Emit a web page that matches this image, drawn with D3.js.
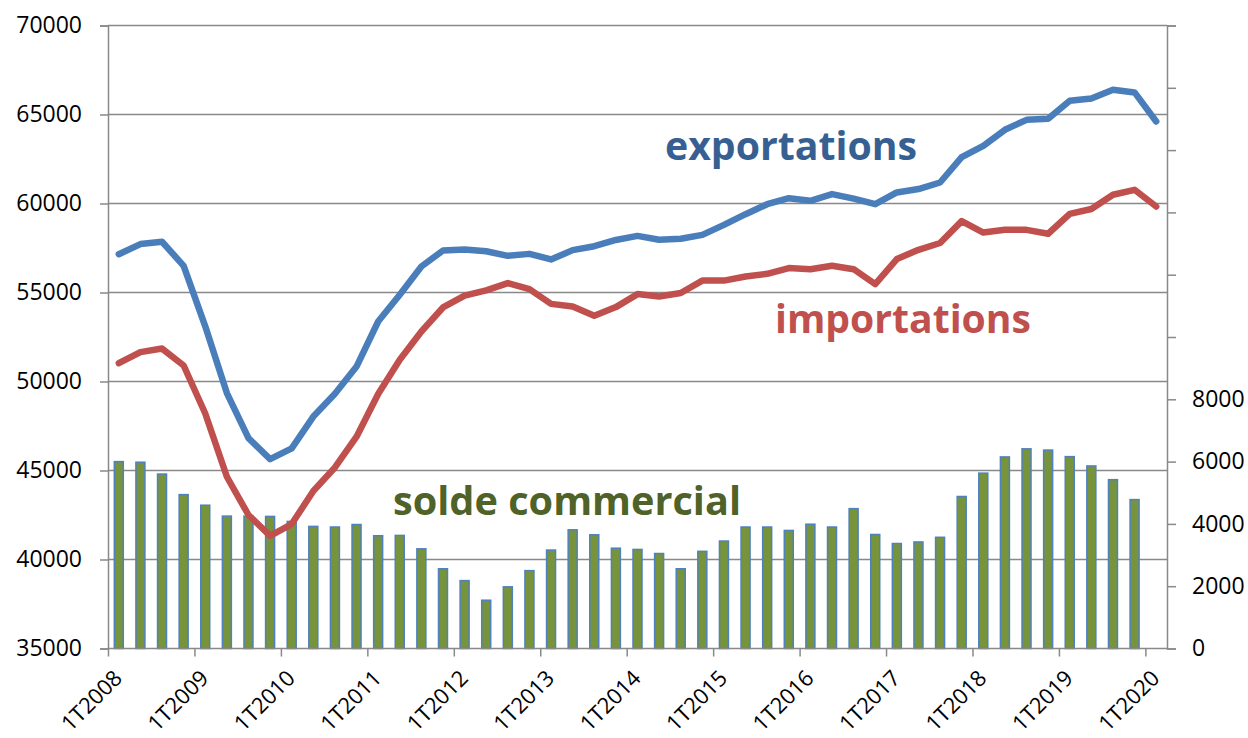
<!DOCTYPE html>
<html>
<head>
<meta charset="utf-8">
<script src="https://cdn.jsdelivr.net/npm/d3@7"></script>
<style>
html,body{margin:0;padding:0;background:#fff;}
svg{display:block;font-family:"Open Sans",sans-serif;}
</style>
</head>
<body>
<svg id="chart" width="1248" height="738"></svg>
<script>
// ---- data ----
const years = d3.range(2008, 2021);
const categories = [];
years.forEach(y => { [1,2,3,4].forEach(q => { if (y < 2020 || q === 1) categories.push(q + "T" + y); }); });

const exportations = [57150,57720,57850,56500,53100,49350,46820,45640,46240,48030,49310,50840,53370,54870,56460,57360,
  57420,57320,57060,57170,56860,57380,57600,57950,58180,57960,58020,58240,58800,59400,59960,60300,
  60150,60530,60270,59960,60620,60810,61180,62600,63240,64140,64700,64760,65770,65900,66390,66240,64610];
const importations = [51030,51650,51850,50900,48200,44650,42500,41330,41990,43850,45170,46900,49300,51220,52810,54160,
  54820,55120,55530,55190,54360,54210,53690,54180,54910,54780,54970,55670,55670,55900,56050,56370,
  56310,56500,56310,55470,56880,57400,57780,59010,58370,58520,58520,58300,59420,59690,60490,60770,59830];
const soldeCommercial = [6000,5980,5600,4940,4600,4250,4250,4240,4080,3920,3900,3980,3620,3630,3200,2560,2180,1550,
  1980,2500,3160,3810,3650,3220,3180,3050,2560,3120,3450,3900,3900,3790,3990,3900,4490,3660,3370,3420,3570,
  4880,5630,6150,6410,6370,6160,5860,5420,4780];

const leftTicks = [35000,40000,45000,50000,55000,60000,65000,70000];
const rightTicks = [0,2000,4000,6000,8000,10000,12000,14000,16000,18000,20000];
const rightTickLabels = [0,2000,4000,6000,8000];
const xTickLabels = categories.filter(c => c.startsWith("1T"));

// ---- layout ----
const svg = d3.select("#chart");
const L = 108, R = 1167, T = 25.5, B = 648.5;
const bw = (R - L) / categories.length;

const xEdge = d3.scalePoint().domain(categories).range([L, L + bw * (categories.length - 1)]);
const xc = c => xEdge(c) + bw / 2;
const yL = d3.scaleLinear().domain([35000, 70000]).range([B, T]);
const yR = d3.scaleLinear().domain([0, 20000]).range([B, T]);

const gridColor = "#898989";

// gridlines
svg.append("g").selectAll("line").data(leftTicks.slice(1)).join("line")
  .attr("x1", L).attr("x2", R).attr("y1", d => yL(d)).attr("y2", d => yL(d))
  .attr("stroke", gridColor).attr("stroke-width", 1.5);

// left axis
const leftAxis = d3.axisLeft(yL).tickValues(leftTicks).tickSize(8).tickPadding(18).tickFormat(d3.format("d"));
const gl = svg.append("g").attr("transform", `translate(${L},0)`).call(leftAxis);
gl.select(".domain").attr("stroke", gridColor).attr("stroke-width", 1.5);
gl.selectAll(".tick line").attr("stroke", gridColor).attr("stroke-width", 1.5);
gl.selectAll(".tick text").attr("font-size", 23).attr("fill", "#000").attr("font-family", "Open Sans");

// right axis
const rightAxis = d3.axisRight(yR).tickValues(rightTicks).tickSize(9).tickPadding(16)
  .tickFormat(d => rightTickLabels.includes(d) ? d3.format("d")(d) : "");
const gr = svg.append("g").attr("transform", `translate(${R},0)`).call(rightAxis);
gr.select(".domain").attr("stroke", gridColor).attr("stroke-width", 1.5);
gr.selectAll(".tick line").attr("stroke", gridColor).attr("stroke-width", 1.5);
gr.selectAll(".tick text").attr("font-size", 23).attr("fill", "#000").attr("font-family", "Open Sans");

// bars
const barW = 9;
svg.append("g").selectAll("rect").data(soldeCommercial).join("rect")
  .attr("x", (d, i) => xc(categories[i]) - barW / 2)
  .attr("y", d => yR(d))
  .attr("width", barW)
  .attr("height", d => yR(0) - yR(d))
  .attr("fill", "#77933C").attr("stroke", "#4F81BD").attr("stroke-width", 1.5);

// bottom axis
const bottomAxis = d3.axisBottom(xEdge).tickValues(xTickLabels).tickSize(8).tickFormat("");
const gb = svg.append("g").attr("transform", `translate(0,${B})`).call(bottomAxis);
gb.select(".domain").attr("stroke", gridColor).attr("stroke-width", 1.5).attr("d", `M${L},0H${R}`);
gb.selectAll(".tick line").attr("stroke", gridColor).attr("stroke-width", 1.5);
gb.selectAll(".tick").append("text")
  .attr("text-anchor", "end")
  .attr("transform", "translate(15,31) rotate(-45)")
  .attr("font-size", 22).attr("fill", "#000").attr("font-family", "Open Sans")
  .text(d => d);

// lines
const line = d3.line().x((d, i) => xc(categories[i])).y(d => yL(d));
svg.append("path").datum(importations).attr("d", line)
  .attr("fill", "none").attr("stroke", "#C0504D").attr("stroke-width", 6.5).attr("stroke-linejoin", "round").attr("stroke-linecap", "round");
svg.append("path").datum(exportations).attr("d", line)
  .attr("fill", "none").attr("stroke", "#4A7EBB").attr("stroke-width", 6.5).attr("stroke-linejoin", "round").attr("stroke-linecap", "round");

// labels
const labels = [
  {text: "exportations", x: 665, y: 160, w: 252, color: "#376092"},
  {text: "importations", x: 775, y: 333, w: 256, color: "#C0504D"},
  {text: "solde commercial", x: 393, y: 514.5, w: 348, color: "#4F6228"}
];
svg.append("g").selectAll("text").data(labels).join("text")
  .attr("x", d => d.x).attr("y", d => d.y)
  .attr("font-size", 40).attr("font-weight", "bold").attr("font-family", "Open Sans")
  .attr("fill", d => d.color)
  .attr("textLength", d => d.w).attr("lengthAdjust", "spacingAndGlyphs")
  .text(d => d.text);
</script>
</body>
</html>
